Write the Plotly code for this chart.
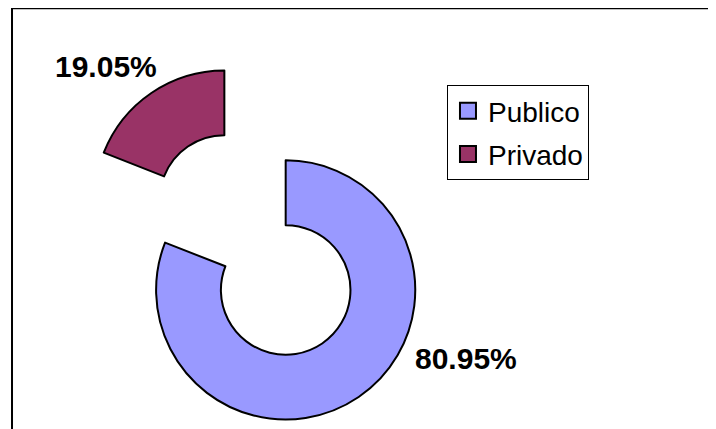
import plotly.graph_objects as go

labels = ["Publico", "Privado"]
values = [17, 4]
colors = ["#9999FF", "#993366"]

total = sum(values)
pct = [v / total * 100 for v in values]

fig = go.Figure()

# exploded doughnut, legend drawn from dummy traces so the swatches are bigger
fig.add_trace(go.Pie(
    labels=labels, values=values, hole=0.5, pull=[0.42, 0.42],
    sort=False, direction="clockwise", rotation=0,
    marker=dict(colors=colors, line=dict(color="black", width=2)),
    textinfo="none", hoverinfo="label+percent", showlegend=False,
    domain=dict(x=[0.0871, 0.6029], y=[0.0187, 0.8765]),
))

for i, lab in enumerate(labels):
    fig.add_trace(go.Scatter(
        x=[None], y=[None], mode="markers", name=lab, legendgroup=lab,
        marker=dict(symbol="square", size=16, color=colors[i],
                    line=dict(color="black", width=2)),
    ))

# percentage labels next to each slice
lbl_font = dict(size=30, color="black", family="Arial, Liberation Sans", weight="bold")
fig.add_annotation(x=0.1369, y=0.8625, xref="paper", yref="paper",
                   xanchor="center", yanchor="middle",
                   text=f"{pct[1]:.2f}%", showarrow=False, font=lbl_font)
fig.add_annotation(x=0.6390, y=0.1841, xref="paper", yref="paper",
                   xanchor="center", yanchor="middle",
                   text=f"{pct[0]:.2f}%", showarrow=False, font=lbl_font)

# chart frame (runs off the right and bottom edges)
fig.add_shape(type="rect", xref="paper", yref="paper",
              x0=0.0056, y0=-0.05, x1=1.05, y1=0.9995,
              line=dict(color="black", width=2))

fig.update_layout(
    width=716, height=429,
    margin=dict(l=0, r=0, t=0, b=0),
    paper_bgcolor="white", plot_bgcolor="white",
    font=dict(family="Arial, Liberation Sans", color="black"),
    xaxis=dict(visible=False), yaxis=dict(visible=False),
    legend=dict(x=0.6131, y=0.8205, xanchor="left", yanchor="top",
                bordercolor="black", borderwidth=1, bgcolor="white",
                font=dict(size=28), tracegroupgap=4, traceorder="grouped",
                entrywidth=98),
)

fig.write_html("out.html")
